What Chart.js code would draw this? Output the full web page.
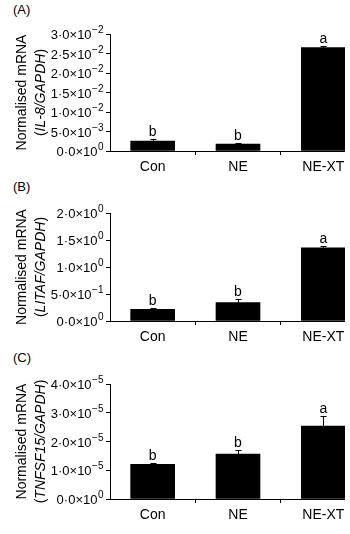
<!DOCTYPE html>
<html>
<head>
<meta charset="utf-8">
<script src="https://cdn.jsdelivr.net/npm/chart.js@4/dist/chart.umd.min.js"></script>
<style>
  html, body { margin: 0; padding: 0; background: #fff; overflow: hidden; }
  body { width: 350px; height: 534px; position: relative; font-family: 'Liberation Sans', Arial, sans-serif; }
  .panel { position: absolute; left: 0; width: 345px; overflow: hidden; }
  .tag { position: absolute; left: 13px; font-size: 13px; color: #000; }
</style>
</head>
<body>
<div class="tag" style="top:2px">(A)</div>
<div class="tag" style="top:179px">(B)</div>
<div class="tag" style="top:350px">(C)</div>
<div class="panel" style="top:0; height:175px"><canvas id="chartA" width="366" height="175"></canvas></div>
<div class="panel" style="top:175px; height:170px"><canvas id="chartB" width="366" height="170"></canvas></div>
<div class="panel" style="top:345px; height:178px"><canvas id="chartC" width="366" height="178"></canvas></div>
<script>
const categories = ['Con', 'NE', 'NE-XT'];

// (A) IL-8
const il8Means = [0.00256, 0.0018, 0.0265];
const il8Errors = [0.00055, 0.0002, 0.0004];
const il8Letters = ['b', 'b', 'a'];
const il8TickValues = [0, 0.005, 0.01, 0.015, 0.02, 0.025, 0.03];
const il8TickMantissa = ['0·0', '5·0', '1·0', '1·5', '2·0', '2·5', '3·0'];
const il8TickExponent = ['0', '−3', '−2', '−2', '−2', '−2', '−2'];

// (B) LITAF
const litafMeans = [0.217, 0.34, 1.356];
const litafErrors = [0.033, 0.06, 0.031];
const litafLetters = ['b', 'b', 'a'];
const litafTickValues = [0, 0.5, 1.0, 1.5, 2.0];
const litafTickMantissa = ['0·0', '5·0', '1·0', '1·5', '2·0'];
const litafTickExponent = ['0', '−1', '0', '0', '0'];

// (C) TNFSF15
const tnfsfMeans = [1.21e-5, 1.565e-5, 2.54e-5];
const tnfsfErrors = [0.04e-5, 0.135e-5, 0.35e-5];
const tnfsfLetters = ['b', 'b', 'a'];
const tnfsfTickValues = [0, 1e-5, 2e-5, 3e-5, 4e-5];
const tnfsfTickMantissa = ['0·0', '1·0', '2·0', '3·0', '4·0'];
const tnfsfTickExponent = ['0', '−5', '−5', '−5', '−5'];

const FONT = "'Liberation Sans', Arial, sans-serif";

// error bars + significance letters
const errorBarPlugin = {
    id: 'errorBars',
    afterDatasetsDraw(chart, args, opts) {
        const ctx = chart.ctx;
        const meta = chart.getDatasetMeta(0);
        const y = chart.scales.y;
        ctx.save();
        ctx.strokeStyle = '#000';
        ctx.lineWidth = 1;
        meta.data.forEach((bar, i) => {
            const mean = opts.means[i];
            const top = y.getPixelForValue(mean + opts.errors[i]);
            const base = y.getPixelForValue(mean);
            const x = Math.round(bar.x) + 0.5;
            ctx.beginPath();
            ctx.moveTo(x, base);
            ctx.lineTo(x, Math.round(top) + 0.5);
            ctx.moveTo(x - 3, Math.round(top) + 0.5);
            ctx.lineTo(x + 3, Math.round(top) + 0.5);
            ctx.stroke();
            ctx.fillStyle = '#000';
            ctx.font = '14px ' + FONT;
            ctx.textAlign = 'center';
            ctx.textBaseline = 'alphabetic';
            ctx.fillText(opts.letters[i], bar.x, top - 3);
        });
        ctx.restore();
    }
};

// y tick labels as mantissa×10 with a real superscript exponent
const sciTicksPlugin = {
    id: 'sciTicks',
    afterDraw(chart, args, opts) {
        const ctx = chart.ctx;
        const y = chart.scales.y;
        const right = chart.chartArea.left - 7;
        ctx.save();
        ctx.fillStyle = '#000';
        ctx.textBaseline = 'alphabetic';
        ctx.textAlign = 'left';
        y.ticks.forEach((t, i) => {
            const py = y.getPixelForValue(t.value);
            const base = opts.mantissa[i] + '×10';
            const exp = opts.exponent[i];
            ctx.font = '10px ' + FONT;
            const ew = ctx.measureText(exp).width;
            ctx.font = '13px ' + FONT;
            const bw = ctx.measureText(base).width;
            const x0 = right - ew - bw;
            ctx.fillText(base, x0, py + 5);
            ctx.font = '10px ' + FONT;
            ctx.fillText(exp, x0 + bw + 0.5, py - 1);
        });
        ctx.restore();
    }
};

// two-line y title with italic gene names
const yTitlePlugin = {
    id: 'yTitle',
    afterDraw(chart, args, opts) {
        const ctx = chart.ctx;
        const area = chart.chartArea;
        const cy = (area.top + area.bottom) / 2;
        ctx.save();
        ctx.fillStyle = '#000';
        ctx.textBaseline = 'middle';

        ctx.save();
        ctx.translate(22, cy);
        ctx.rotate(-Math.PI / 2);
        ctx.font = '14px ' + FONT;
        ctx.textAlign = 'center';
        ctx.fillText('Normalised mRNA', 0, 0);
        ctx.restore();

        const parts = [
            { text: '(', font: '14px ' + FONT },
            { text: opts.gene, font: 'italic 14px ' + FONT },
            { text: ')', font: '14px ' + FONT }
        ];
        let total = 0;
        parts.forEach(p => { ctx.font = p.font; p.w = ctx.measureText(p.text).width; total += p.w; });
        ctx.translate(41, cy);
        ctx.rotate(-Math.PI / 2);
        ctx.textAlign = 'left';
        let x = -total / 2;
        parts.forEach(p => { ctx.font = p.font; ctx.fillText(p.text, x, 0); x += p.w; });
        ctx.restore();
    }
};

function makeChart(id, means, errors, letters, tickValues, mantissa, exponent, gene, topPad) {
    const ctx = document.getElementById(id).getContext('2d');
    return new Chart(ctx, {
        type: 'bar',
        data: {
            labels: categories,
            datasets: [{
                data: means,
                backgroundColor: '#000',
                borderWidth: 0,
                barThickness: 44
            }]
        },
        plugins: [errorBarPlugin, sciTicksPlugin, yTitlePlugin],
        options: {
            responsive: false,
            animation: false,
            layout: { padding: { top: topPad, right: 0, left: 0, bottom: 0 } },
            plugins: {
                legend: { display: false },
                tooltip: { enabled: false },
                errorBars: { means: means, errors: errors, letters: letters },
                sciTicks: { mantissa: mantissa, exponent: exponent },
                yTitle: { gene: gene }
            },
            scales: {
                x: {
                    afterFit: s => { s.height = 24; },
                    border: { color: '#000', width: 1 },
                    grid: {
                        offset: true,
                        drawOnChartArea: false,
                        tickLength: 4,
                        color: c => c.index === 0 ? 'rgba(0,0,0,0)' : '#000'
                    },
                    ticks: { color: '#000', padding: 4, font: { family: FONT, size: 14 } }
                },
                y: {
                    min: tickValues[0],
                    max: tickValues[tickValues.length - 1],
                    afterFit: s => { s.width = 110; },
                    afterBuildTicks: s => { s.ticks = tickValues.map(v => ({ value: v })); },
                    border: { color: '#000', width: 1 },
                    grid: { drawOnChartArea: false, tickLength: 4, color: '#000' },
                    ticks: { display: false }
                }
            }
        }
    });
}

makeChart('chartA', il8Means, il8Errors, il8Letters, il8TickValues, il8TickMantissa, il8TickExponent, 'IL-8/GAPDH', 34);
makeChart('chartB', litafMeans, litafErrors, litafLetters, litafTickValues, litafTickMantissa, litafTickExponent, 'LITAF/GAPDH', 38);
makeChart('chartC', tnfsfMeans, tnfsfErrors, tnfsfLetters, tnfsfTickValues, tnfsfTickMantissa, tnfsfTickExponent, 'TNFSF15/GAPDH', 39);
</script>
</body>
</html>
